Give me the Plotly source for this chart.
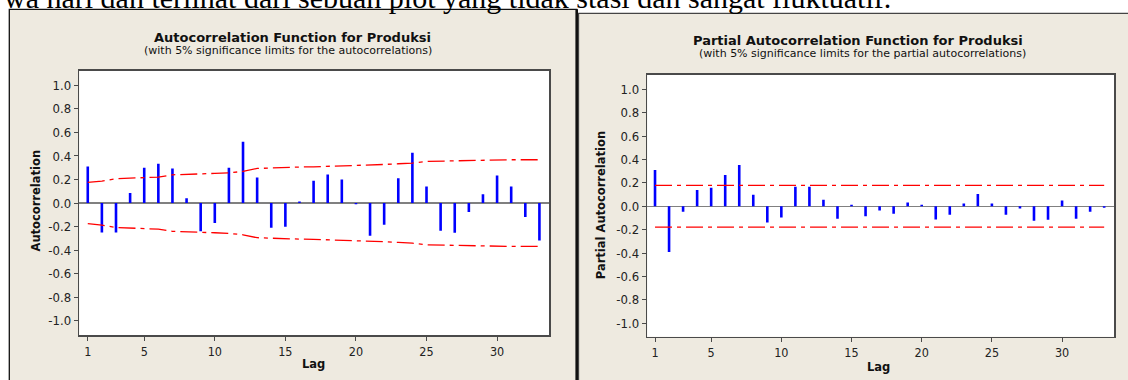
import plotly.graph_objects as go

# ---------------- data ----------------
lags = list(range(1, 34))
acf_values = [0.31, -0.25, -0.25, 0.085, 0.30, 0.334, 0.294, 0.042, -0.24, -0.17,
              0.30, 0.52, 0.218, -0.21, -0.20, 0.014, 0.19, 0.243, 0.20, -0.01,
              -0.277, -0.184, 0.21, 0.427, 0.14, -0.235, -0.252, -0.076, 0.074, 0.235,
              0.14, -0.119, -0.317]
acf_limits = [0.175, 0.187, 0.207, 0.212, 0.212, 0.221, 0.240, 0.246, 0.246, 0.252,
              0.257, 0.269, 0.294, 0.300, 0.303, 0.306, 0.308, 0.311, 0.317, 0.320,
              0.323, 0.328, 0.334, 0.340, 0.354, 0.357, 0.362, 0.362, 0.362, 0.365,
              0.368, 0.368, 0.368]
pacf_values = [0.31, -0.39, -0.046, 0.14, 0.158, 0.267, 0.353, 0.098, -0.138, -0.095,
               0.167, 0.167, 0.055, -0.106, 0.014, -0.086, -0.037, -0.063, 0.032, 0.014,
               -0.112, -0.072, 0.023, 0.106, 0.023, -0.072, -0.02, -0.124, -0.115, 0.049,
               -0.106, -0.046, -0.012]
pacf_limit = 0.178

x_tick_vals = [1, 5, 10, 15, 20, 25, 30]
y_tick_vals = [-1.0, -0.8, -0.6, -0.4, -0.2, 0.0, 0.2, 0.4, 0.6, 0.8, 1.0]
y_tick_text = ["-1.0", "-0.8", "-0.6", "-0.4", "-0.2", "0.0", "0.2", "0.4", "0.6", "0.8", "1.0"]

top_text = "wa hari dan terlihat dari sebuah plot yang tidak stasi dan sangat fluktuatif."
acf_title = "Autocorrelation Function for Produksi"
acf_subtitle = "(with 5% significance limits for the autocorrelations)"
pacf_title = "Partial Autocorrelation Function for Produksi"
pacf_subtitle = "(with 5% significance limits for the partial autocorrelations)"

# ---------------- helpers ----------------
W, H = 1128, 380
def px(x):
    return x / W
def py(y):
    return 1 - y / H

FONT_T = "DejaVu Sans Condensed, DejaVu Sans, sans-serif"
FONT = "DejaVu Sans, sans-serif"
BG = "#EEEAE0"
BLUE = "#0000FF"
RED = "#FF0000"
AXC = "#4a4a4a"
DASH = "17px,5px,4px,5px"

def stems(xs, ys):
    sx, sy = [], []
    for x, y in zip(xs, ys):
        sx += [x, x, None]
        sy += [0, y, None]
    return sx, sy

fig = go.Figure()

# ACF
sx, sy = stems(lags, acf_values)
fig.add_trace(go.Scatter(x=sx, y=sy, mode="lines", line=dict(color=BLUE, width=2.6),
                         xaxis="x", yaxis="y", hoverinfo="skip"))
fig.add_trace(go.Scatter(x=lags, y=acf_limits, mode="lines",
                         line=dict(color=RED, width=1.3, dash=DASH), xaxis="x", yaxis="y"))
fig.add_trace(go.Scatter(x=lags, y=[-v for v in acf_limits], mode="lines",
                         line=dict(color=RED, width=1.3, dash=DASH), xaxis="x", yaxis="y"))

# PACF
sx, sy = stems(lags, pacf_values)
fig.add_trace(go.Scatter(x=sx, y=sy, mode="lines", line=dict(color=BLUE, width=2.6),
                         xaxis="x2", yaxis="y2", hoverinfo="skip"))
fig.add_trace(go.Scatter(x=lags, y=[pacf_limit] * len(lags), mode="lines",
                         line=dict(color=RED, width=1.3, dash=DASH), xaxis="x2", yaxis="y2"))
fig.add_trace(go.Scatter(x=lags, y=[-pacf_limit] * len(lags), mode="lines",
                         line=dict(color=RED, width=1.3, dash=DASH), xaxis="x2", yaxis="y2"))

# plot area geometry (pixels)
L1, R1, T1, B1 = 79.3, 549.3, 70.7, 335.0
L2, R2, T2, B2 = 647.3, 1114.0, 74.7, 336.7

common_x = dict(tickvals=x_tick_vals, ticks="outside", ticklen=4, tickwidth=1, tickcolor=AXC,
                showline=True, linecolor=AXC, linewidth=1.5, mirror=True, showgrid=False,
                zeroline=False, tickfont=dict(family=FONT_T, size=12.5, color="#222"))
common_y = dict(tickvals=y_tick_vals, ticktext=y_tick_text, ticks="outside", ticklen=4,
                tickwidth=1, tickcolor=AXC, showline=True, linecolor=AXC, linewidth=1.5,
                mirror=True, showgrid=False, zeroline=True, zerolinecolor="#808080",
                zerolinewidth=1.5, tickfont=dict(family=FONT_T, size=13, color="#222"))

fig.update_layout(
    width=W, height=H, margin=dict(l=0, r=0, t=0, b=0),
    paper_bgcolor="white", plot_bgcolor="white", showlegend=False,
    xaxis=dict(domain=[px(L1), px(R1)], range=[0.4, 33.7], anchor="y", **common_x),
    yaxis=dict(domain=[py(B1), py(T1)], range=[-1.12, 1.124], anchor="x", **common_y),
    xaxis2=dict(domain=[px(L2), px(R2)], range=[0.45, 33.7], anchor="y2", **common_x),
    yaxis2=dict(domain=[py(B2), py(T2)], range=[-1.115, 1.125], anchor="x2", **common_y),
)

shapes = [
    dict(type="rect", xref="paper", yref="paper", x0=px(9.3), x1=px(576.7), y0=py(384), y1=py(9.3),
         fillcolor=BG, line=dict(color="#111", width=1.3), layer="below"),
    dict(type="rect", xref="paper", yref="paper", x0=px(578.5), x1=px(1135), y0=py(384), y1=py(13.3),
         fillcolor=BG, line=dict(color="#444", width=1.3), layer="below"),
    dict(type="line", xref="paper", yref="paper", x0=px(576.7), x1=px(576.7), y0=py(384), y1=py(9.3),
         line=dict(color="#111", width=2.6), layer="below"),
    dict(type="rect", xref="paper", yref="paper", x0=px(L1), x1=px(R1), y0=py(B1), y1=py(T1),
         fillcolor="white", line=dict(width=0), layer="below"),
    dict(type="rect", xref="paper", yref="paper", x0=px(L2), x1=px(R2), y0=py(B2), y1=py(T2),
         fillcolor="white", line=dict(width=0), layer="below"),
]
fig.update_layout(shapes=shapes)

def ann(text, x, y, size, bold=False, angle=0, family=FONT, xanchor="center", yanchor="middle", color="#111"):
    return dict(text=f"<b>{text}</b>" if bold else text, x=px(x), y=py(y), xref="paper", yref="paper",
                showarrow=False, textangle=angle, xanchor=xanchor, yanchor=yanchor,
                font=dict(family=family, size=size, color=color))

annotations = [
    ann(top_text, 2, 16, 30, family="Liberation Serif, Times New Roman, serif", xanchor="left",
        yanchor="bottom", color="#000"),
    ann(acf_title, 292, 37.3, 13, bold=True),
    ann(acf_subtitle, 288, 50.5, 11),
    ann(pacf_title, 857.5, 40.7, 13, bold=True),
    ann(pacf_subtitle, 862.5, 53.2, 11),
    ann("Autocorrelation", 35, 200.5, 11.5, bold=True, angle=-90),
    ann("Partial Autocorrelation", 601.7, 205.5, 11.5, bold=True, angle=-90),
    ann("Lag", 313, 364.3, 11.5, bold=True),
    ann("Lag", 878.3, 366.7, 11.5, bold=True),
]
fig.update_layout(annotations=annotations)

fig.write_html("out.html",
               config={"displayModeBar": False, "staticPlot": True},
               post_script="document.body.style.margin='0';document.body.style.padding='0';"
                           "document.body.style.overflow='hidden';")
